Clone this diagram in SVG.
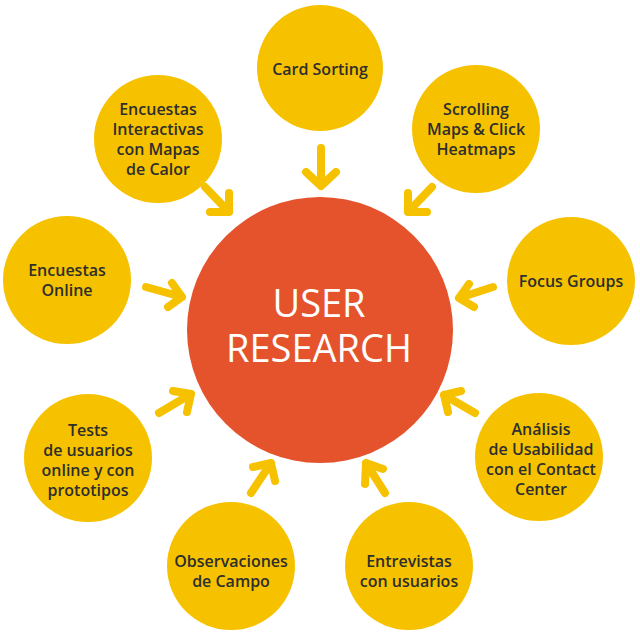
<svg xmlns="http://www.w3.org/2000/svg" width="640" height="634" viewBox="0 0 640 634">
<style>
.sat{fill:#F6C200}
.lbl{font-family:"Open Sans","Liberation Sans",sans-serif;font-size:16px;font-weight:600;fill:#2e2e2e;text-anchor:middle}
.ctr{font-family:"Open Sans","Liberation Sans",sans-serif;font-size:38px;fill:#ffffff;text-anchor:middle}
.arr{fill:none;stroke:#F6C200;stroke-width:8;stroke-linecap:round;stroke-linejoin:round}
</style>
<rect width="640" height="634" fill="#ffffff"/>
<g id="center">
<circle cx="320" cy="330" r="133" fill="#E4532C"/>
<text class="ctr"><tspan x="319" y="317">USER</tspan><tspan x="319" y="362">RESEARCH</tspan></text>
</g>
<g id="card-sorting">
<circle class="sat" cx="320" cy="68" r="63"/>
<text class="lbl" x="320" y="75">Card Sorting</text>
</g>
<g id="scrolling">
<circle class="sat" cx="476" cy="129" r="64"/>
<text class="lbl" x="476" y="114.7">Scrolling</text>
<text class="lbl" x="476" y="134.7">Maps &amp; Click</text>
<text class="lbl" x="476" y="154.7">Heatmaps</text>
</g>
<g id="focus-groups">
<circle class="sat" cx="571" cy="281" r="64"/>
<text class="lbl" x="571" y="287">Focus Groups</text>
</g>
<g id="analisis">
<circle class="sat" cx="539" cy="457" r="64"/>
<text class="lbl" x="541" y="435">Análisis</text>
<text class="lbl" x="541" y="455">de Usabilidad</text>
<text class="lbl" x="541" y="475">con el Contact</text>
<text class="lbl" x="541" y="495">Center</text>
</g>
<g id="entrevistas">
<circle class="sat" cx="409" cy="566" r="64"/>
<text class="lbl" x="409" y="566.5">Entrevistas</text>
<text class="lbl" x="409" y="586.5">con usuarios</text>
</g>
<g id="observaciones">
<circle class="sat" cx="231" cy="566" r="64"/>
<text class="lbl" x="231" y="566.5">Observaciones</text>
<text class="lbl" x="231" y="586.5">de Campo</text>
</g>
<g id="tests">
<circle class="sat" cx="88" cy="458" r="64"/>
<text class="lbl" x="88" y="436">Tests</text>
<text class="lbl" x="88" y="456">de usuarios</text>
<text class="lbl" x="88" y="476">online y con</text>
<text class="lbl" x="88" y="496">prototipos</text>
</g>
<g id="encuestas-online">
<circle class="sat" cx="67" cy="280" r="64"/>
<text class="lbl" x="67" y="275.5">Encuestas</text>
<text class="lbl" x="67" y="295.5">Online</text>
</g>
<g id="encuestas-interactivas">
<circle class="sat" cx="158" cy="139" r="64"/>
<text class="lbl" x="158" y="115">Encuestas</text>
<text class="lbl" x="158" y="135">Interactivas</text>
<text class="lbl" x="158" y="155">con Mapas</text>
<text class="lbl" x="158" y="175">de Calor</text>
</g>
<g id="connectors" class="arr">
<path d="M321 148V185M306 172L321 186L336 172"/>
<path d="M205 187L229 212M229 193V212H210"/>
<path d="M432 187L408 212M408 193V212H427"/>
<path d="M146 287L182 297M172 283L182 297L168 307"/>
<path d="M493 287L459 298M469 284L459 298L474 307"/>
<path d="M159 413L191 394M173 391L191 394L187 412"/>
<path d="M475 413L444 395M461 391L444 395L448 412"/>
<path d="M251 493L271 463M253 467L271 463L275 481"/>
<path d="M385 493L366 463M383 469L366 463L365 484"/>
</g>
</svg>
